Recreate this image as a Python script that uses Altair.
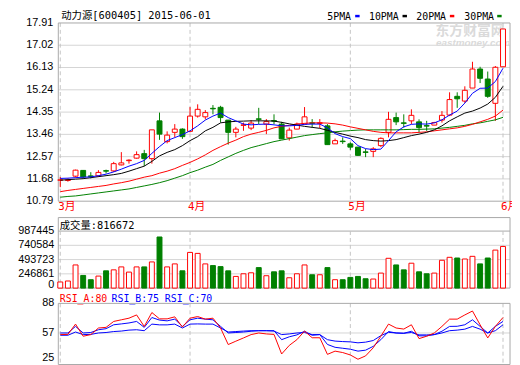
import altair as alt
import pandas as pd

# ---------------- data ----------------
months = ["3月", "4月", "5月", "6月"]
month_idx = [0, 17, 38, 58]

opens = [11.63, 11.62, 11.79, 12.02, 11.80, 11.80, 12.01, 12.00, 12.24, 12.41,
         12.51, 12.69, 12.49, 14.00, 13.17, 13.54, 13.67, 13.58, 14.19, 14.16,
         14.50, 14.54, 14.03, 13.54, 13.82, 13.71, 14.08, 13.87, 14.01, 13.87,
         13.32, 13.67, 13.87, 13.92, 13.90, 13.80, 13.08, 13.19, 13.08, 12.95,
         12.76, 12.78, 13.01, 13.54, 14.13, 13.92, 14.00, 13.96, 13.81, 13.83,
         14.03, 14.23, 14.98, 14.79, 15.31, 16.07, 15.67, 14.70, 16.16]
highs = [11.76, 11.70, 12.05, 12.03, 11.95, 12.03, 12.05, 12.36, 12.75, 12.46,
         12.78, 12.84, 13.64, 14.33, 13.58, 13.87, 13.70, 14.55, 14.66, 14.43,
         14.63, 14.60, 14.03, 13.76, 13.93, 14.03, 14.52, 14.07, 14.26, 13.96,
         13.73, 13.93, 14.55, 14.07, 14.07, 13.87, 13.29, 13.34, 13.14, 12.95,
         12.88, 12.95, 13.34, 14.36, 14.33, 14.26, 14.46, 14.06, 14.00, 13.96,
         14.39, 15.14, 15.14, 15.38, 16.36, 16.16, 15.97, 16.19, 17.67]
lows = [11.35, 11.57, 11.74, 11.70, 11.70, 11.76, 11.90, 11.96, 12.22, 12.29,
        12.49, 12.19, 12.29, 13.24, 13.10, 13.34, 13.28, 13.54, 14.13, 14.06,
        14.26, 13.93, 13.05, 13.34, 13.60, 13.63, 13.87, 13.47, 13.87, 13.28,
        13.21, 13.67, 13.87, 13.73, 13.71, 13.05, 13.08, 13.08, 12.84, 12.60,
        12.55, 12.55, 12.95, 13.34, 13.83, 13.73, 13.87, 13.54, 13.60, 13.83,
        13.93, 14.19, 14.52, 14.72, 15.31, 15.51, 14.92, 14.00, 16.16]
closes = [11.64, 11.64, 12.03, 11.76, 11.78, 11.94, 11.99, 12.29, 12.32, 12.43,
          12.65, 12.49, 13.64, 13.47, 13.43, 13.67, 13.37, 14.19, 14.46, 14.33,
          14.48, 14.13, 13.54, 13.67, 13.84, 13.91, 14.06, 13.97, 13.99, 13.28,
          13.63, 13.87, 14.16, 13.90, 13.92, 13.05, 13.21, 13.17, 12.95, 12.62,
          12.74, 12.88, 13.30, 14.06, 13.96, 13.90, 14.22, 13.73, 13.79, 13.93,
          14.22, 14.85, 14.88, 15.22, 16.07, 15.70, 14.98, 16.14, 17.67]
volumes = [106000, 123000, 401000, 219000, 145000, 208000, 299000, 316000, 367000, 277000,
           367000, 367000, 453000, 885000, 367000, 419000, 299000, 618000, 601000, 419000,
           390000, 372000, 299000, 202000, 248000, 265000, 355000, 214000, 282000, 299000,
           179000, 248000, 401000, 231000, 231000, 355000, 145000, 145000, 185000, 202000,
           162000, 157000, 260000, 516000, 401000, 316000, 431000, 282000, 248000, 260000,
           482000, 533000, 521000, 504000, 550000, 419000, 521000, 658000, 721000]
ma5 = [11.70, 11.71, 11.73, 11.75, 11.76, 11.81, 11.87, 11.96, 12.07, 12.19,
       12.29, 12.42, 12.70, 12.97, 13.21, 13.33, 13.45, 13.60, 13.80, 14.03,
       14.19, 14.31, 14.13, 14.00, 13.87, 13.84, 13.86, 13.87, 13.84, 13.80,
       13.80, 13.82, 13.86, 13.87, 13.87, 13.72, 13.49, 13.37, 13.29, 13.01,
       12.89, 12.85, 12.87, 13.21, 13.56, 13.76, 13.86, 13.88, 13.87, 13.92,
       14.04, 14.23, 14.39, 14.71, 15.10, 15.30, 15.31, 15.57, 16.10]
ma10 = [11.63, 11.65, 11.67, 11.69, 11.73, 11.77, 11.81, 11.85, 11.90, 11.99,
        12.09, 12.19, 12.38, 12.60, 12.74, 12.85, 13.01, 13.21, 13.37, 13.60,
        13.74, 13.92, 13.96, 13.98, 13.99, 14.00, 14.00, 14.00, 13.99, 13.94,
        13.88, 13.83, 13.78, 13.74, 13.70, 13.62, 13.54, 13.47, 13.39, 13.33,
        13.25, 13.21, 13.19, 13.21, 13.25, 13.33, 13.41, 13.47, 13.54, 13.64,
        13.80, 14.00, 14.16, 14.31, 14.39, 14.51, 14.67, 14.94, 15.38]
ma20 = [11.17, 11.22, 11.26, 11.30, 11.34, 11.38, 11.42, 11.48, 11.53, 11.59,
        11.67, 11.75, 11.81, 11.91, 11.99, 12.09, 12.22, 12.34, 12.48, 12.64,
        12.82, 12.97, 13.11, 13.23, 13.37, 13.47, 13.54, 13.62, 13.72, 13.78,
        13.82, 13.87, 13.90, 13.92, 13.92, 13.91, 13.88, 13.83, 13.76, 13.70,
        13.64, 13.58, 13.54, 13.52, 13.52, 13.52, 13.52, 13.54, 13.56, 13.60,
        13.64, 13.68, 13.72, 13.78, 13.86, 13.96, 14.06, 14.19, 14.43]
ma30 = [10.95, 10.98, 11.00, 11.04, 11.08, 11.12, 11.16, 11.20, 11.24, 11.28,
        11.34, 11.40, 11.46, 11.53, 11.61, 11.71, 11.81, 11.93, 12.03, 12.15,
        12.26, 12.42, 12.56, 12.70, 12.82, 12.93, 13.01, 13.09, 13.17, 13.23,
        13.29, 13.35, 13.41, 13.45, 13.49, 13.52, 13.56, 13.59, 13.61, 13.63,
        13.64, 13.64, 13.64, 13.64, 13.64, 13.65, 13.66, 13.66, 13.67, 13.68,
        13.71, 13.74, 13.78, 13.82, 13.88, 13.92, 13.98, 14.04, 14.14]
rsi_a = [55.3, 55.5, 66.3, 53.6, 55.3, 62.2, 62.9, 69.1, 70.8, 72.5,
         75.9, 63.9, 78.4, 71.8, 71.8, 73.9, 63.2, 72.5, 74.2, 71.5,
         72.5, 62.2, 44.9, 48.4, 51.8, 55.3, 57.0, 56.0, 55.5, 35.0,
         44.0, 50.0, 59.0, 52.0, 52.0, 34.6, 38.0, 36.5, 34.0, 29.5,
         33.0, 41.5, 53.6, 66.3, 62.2, 61.1, 65.6, 51.1, 53.6, 57.0,
         63.9, 71.5, 71.5, 75.9, 80.0, 65.6, 51.8, 63.9, 73.2]
rsi_b = [57.0, 57.0, 63.9, 57.0, 57.5, 60.4, 61.5, 65.6, 66.5, 67.5,
         69.1, 62.9, 73.2, 70.5, 69.7, 71.5, 63.9, 70.8, 72.5, 71.5,
         70.8, 63.9, 57.0, 57.5, 58.0, 58.8, 59.4, 59.4, 59.4, 50.0,
         53.0, 55.0, 58.8, 54.6, 55.3, 45.0, 42.0, 41.0, 40.0, 38.0,
         39.0, 43.0, 50.0, 58.5, 57.0, 56.7, 58.8, 54.0, 54.0, 55.3,
         58.8, 63.9, 64.0, 65.6, 70.8, 63.9, 57.0, 63.9, 69.1]
rsi_c = [54.6, 54.6, 58.0, 55.3, 55.5, 57.0, 57.5, 58.5, 59.0, 60.0,
         60.4, 59.4, 66.3, 65.5, 65.5, 66.3, 62.2, 66.3, 66.5, 66.3,
         66.3, 62.2, 58.0, 58.5, 59.0, 59.4, 59.4, 59.4, 59.0, 55.3,
         56.0, 57.0, 57.5, 55.3, 55.3, 50.0, 48.5, 48.0, 47.7, 46.7,
         47.4, 49.1, 54.2, 57.7, 57.0, 56.7, 57.5, 55.0, 55.0, 55.3,
         57.0, 59.4, 60.0, 61.0, 63.9, 61.0, 57.0, 59.4, 65.6]

price_ticks = [17.91, 17.02, 16.13, 15.24, 14.35, 13.46, 12.57, 11.68, 10.79]
vol_ticks = [987445, 740584, 493723, 246861, 0]
rsi_ticks = [88, 57, 25]
legend_names = ["5PMA", "10PMA", "20PMA", "30PMA"]
legend_colors = ["#0000ff", "#000000", "#ff0000", "#008000"]

# ---------------- layout ----------------
W = 458
H = 344.3
RED = "#ff0000"
GREEN = "#008000"
GRID = "#d4d4d4"
FRAME = "#a8a8a8"
NUMFONT = "Liberation Sans"
MONO = "DejaVu Sans Mono, Noto Sans CJK SC"

xs = alt.Scale(domain=[-0.258, 58.92], nice=False, zero=False, padding=0)
ps = alt.Scale(domain=[10.79, 17.91], range=[180.7, 0], nice=False, zero=False, padding=0)
vs = alt.Scale(domain=[0, 987445], range=[268.8, 211.0], nice=False, zero=False, padding=0)
rs = alt.Scale(domain=[25, 88], range=[345.3, 284.3], nice=False, zero=False, padding=0)

n = len(closes)
df = pd.DataFrame({
    "i": list(range(n)), "open": opens, "high": highs, "low": lows, "close": closes,
    "vol": volumes, "ma5": ma5, "ma10": ma10, "ma20": ma20, "ma30": ma30,
    "rsia": rsi_a, "rsib": rsi_b, "rsic": rsi_c,
})
df["up"] = df["close"] >= df["open"]
df["top"] = df[["open", "close"]].max(axis=1)
df["bot"] = df[["open", "close"]].min(axis=1)
df["zero"] = 0

X = alt.X("i:Q", scale=xs, axis=None)
upcond = "datum.up"

base = alt.Chart(df)

# grid & frames
pt = pd.DataFrame({"v": price_ticks, "label": [f"{t:.2f}" for t in price_ticks]})
price_grid = alt.Chart(pt[(pt.v > 10.8) & (pt.v < 17.9)]).mark_rule(color=GRID, strokeWidth=1).encode(
    x=alt.value(0), x2=alt.value(W), y=alt.Y("v:Q", scale=ps, axis=None))
price_labels = alt.Chart(pt).mark_text(align="right", baseline="middle", font=NUMFONT, fontSize=11,
                                       color="#000000").encode(
    x=alt.value(-5), y=alt.Y("v:Q", scale=ps, axis=None), text="label:N")

vt = pd.DataFrame({"v": vol_ticks, "label": [str(t) for t in vol_ticks]})
vol_grid = alt.Chart(vt[(vt.v > 0) & (vt.v < 987445)]).mark_rule(color=GRID, strokeWidth=1).encode(
    x=alt.value(0), x2=alt.value(W), y=alt.Y("v:Q", scale=vs, axis=None))
vol_top = alt.Chart(vt[vt.v == 987445]).mark_rule(color=FRAME, strokeWidth=1).encode(
    x=alt.value(0), x2=alt.value(W), y=alt.Y("v:Q", scale=vs, axis=None))
vol_labels = alt.Chart(vt[vt.v > 0]).mark_text(align="right", baseline="middle", font=NUMFONT, fontSize=11).encode(
    x=alt.value(-4), y=alt.Y("v:Q", scale=vs, axis=None), text="label:N")
vol_zero = alt.Chart(vt[vt.v == 0]).mark_text(align="right", baseline="middle", font=NUMFONT, fontSize=11, dy=-3).encode(
    x=alt.value(-4), y=alt.Y("v:Q", scale=vs, axis=None), text="label:N")

rt = pd.DataFrame({"v": rsi_ticks, "label": [str(t) for t in rsi_ticks]})
rsi_grid = alt.Chart(rt[rt.v == 57]).mark_rule(color=GRID, strokeWidth=1).encode(
    x=alt.value(0), x2=alt.value(W), y=alt.Y("v:Q", scale=rs, axis=None))
rsi_labels = alt.Chart(rt[rt.v > 25]).mark_text(align="right", baseline="middle", font=NUMFONT, fontSize=11).encode(
    x=alt.value(-4), y=alt.Y("v:Q", scale=rs, axis=None), text="label:N")
rsi_low = alt.Chart(rt[rt.v == 25]).mark_text(align="right", baseline="middle", font=NUMFONT, fontSize=11, dy=-6).encode(
    x=alt.value(-4), y=alt.Y("v:Q", scale=rs, axis=None), text="label:N")

md = pd.DataFrame({"i": month_idx, "m": months})
vlines = []
for (a, b) in [(0, 180.7), (211.0, 268.8), (284.3, H)]:
    vlines.append(alt.Chart(md).mark_rule(color="#c4c4c4", strokeDash=[4, 3], strokeWidth=1).encode(
        x=X, y=alt.value(a), y2=alt.value(b)))
month_text = alt.Chart(md).mark_text(align="left", baseline="middle", font=MONO, fontSize=11, color=RED, dx=-2).encode(
    x=X, y=alt.value(187), text="m:N")

frame_df = pd.DataFrame({"k": [0]})
frames = []
for (a, b) in [(0, 180.7), (197.3, 268.8), (284.3, H + 2)]:
    frames.append(alt.Chart(frame_df).mark_rect(fill=None, stroke=FRAME, strokeWidth=1).encode(
        x=alt.value(0), x2=alt.value(W), y=alt.value(a), y2=alt.value(b)))

# candles
wicks = base.mark_rule(strokeWidth=1).encode(
    x=X, y=alt.Y("high:Q", scale=ps, axis=None), y2="low:Q",
    color=alt.condition(upcond, alt.value(RED), alt.value(GREEN)))
bodies = base.mark_bar(size=5, strokeWidth=1).encode(
    x=X, y=alt.Y("top:Q", scale=ps, axis=None), y2="bot:Q",
    fill=alt.condition(upcond, alt.value("#ffffff"), alt.value(GREEN)),
    stroke=alt.condition(upcond, alt.value(RED), alt.value(GREEN)))

ma_layers = []
for col, c in zip(["ma30", "ma20", "ma10", "ma5"], ["#008000", "#ff0000", "#000000", "#0000ff"]):
    ma_layers.append(base.mark_line(color=c, strokeWidth=1).encode(
        x=X, y=alt.Y(f"{col}:Q", scale=ps, axis=None)))

vol_bars = base.mark_bar(size=5, strokeWidth=1).encode(
    x=X, y=alt.Y("vol:Q", scale=vs, axis=None), y2="zero:Q",
    fill=alt.condition(upcond, alt.value("#ffffff"), alt.value(GREEN)),
    stroke=alt.condition(upcond, alt.value(RED), alt.value(GREEN)))

rsi_layers = []
for col, c in zip(["rsic", "rsib", "rsia"], ["#0000ff", "#0000ff", "#ff0000"]):
    rsi_layers.append(base.mark_line(color=c, strokeWidth=1).encode(
        x=X, y=alt.Y(f"{col}:Q", scale=rs, axis=None)))

# texts
title_df = pd.DataFrame({"t": ["动力源[600405] 2015-06-01"]})
title = alt.Chart(title_df).mark_text(align="left", baseline="middle", font=MONO, fontSize=10.5).encode(
    x=alt.value(3), y=alt.value(-7), text="t:N")

leg_x = [272.7, 315, 363, 411.7]
leg_df = pd.DataFrame({"name": legend_names, "lx": leg_x,
                       "sx": [301, 349, 397, 445], "c": legend_colors})
leg_layers = []
for _, r in leg_df.iterrows():
    leg_layers.append(alt.Chart(pd.DataFrame({"t": [r["name"]]})).mark_text(
        align="left", baseline="middle", font=MONO, fontSize=10).encode(
        x=alt.value(r["lx"]), y=alt.value(-6.5), text="t:N"))
    leg_layers.append(alt.Chart(pd.DataFrame({"t": [r["name"]]})).mark_rule(
        color=r["c"], strokeWidth=2.5).encode(
        x=alt.value(r["sx"]), x2=alt.value(r["sx"] + 4.5), y=alt.value(-7)))

wm1 = alt.Chart(pd.DataFrame({"t": ["东方财富网"]})).mark_text(
    align="left", baseline="middle", font="Noto Sans CJK SC", fontSize=14, fontWeight="bold", color="#dadada").encode(
    x=alt.value(382.5), y=alt.value(8.3), text="t:N")
wm2 = alt.Chart(pd.DataFrame({"t": ["eastmoney.com"]})).mark_text(
    align="left", baseline="middle", font="Liberation Sans", fontSize=10, fontWeight="bold", fontStyle="italic",
    color="#dadada").encode(x=alt.value(383), y=alt.value(20.5), text="t:N")

vol_title = alt.Chart(pd.DataFrame({"t": ["成交量:816672"]})).mark_text(
    align="left", baseline="middle", font=MONO, fontSize=10.5).encode(
    x=alt.value(1.5), y=alt.value(206), text="t:N")
rsi_titles = []
for t, xx, c in [("RSI_A:80", 1.5, RED), ("RSI_B:75", 54, "#0000ff"), ("RSI_C:70", 108, "#0000ff")]:
    rsi_titles.append(alt.Chart(pd.DataFrame({"t": [t]})).mark_text(
        align="left", baseline="middle", font=MONO, fontSize=10, color=c).encode(
        x=alt.value(xx), y=alt.value(279.5), text="t:N"))

layers = ([price_grid, vol_grid, vol_top, rsi_grid] + vlines + frames +
          [wm1, wm2, wicks, bodies] + ma_layers + [vol_bars] + rsi_layers +
          [price_labels, vol_labels, vol_zero, rsi_labels, rsi_low, month_text, title, vol_title] +
          rsi_titles + leg_layers)

chart = alt.layer(*layers).resolve_scale(y="independent").properties(
    width=W, height=H,
    autosize=alt.AutoSizeParams(type="none"),
    padding={"left": 51, "top": 12.7, "right": 2, "bottom": 0},
    background="#ffffff",
).configure_view(stroke=None)

chart.save("out.html", embed_options={"renderer": "svg", "actions": False})
